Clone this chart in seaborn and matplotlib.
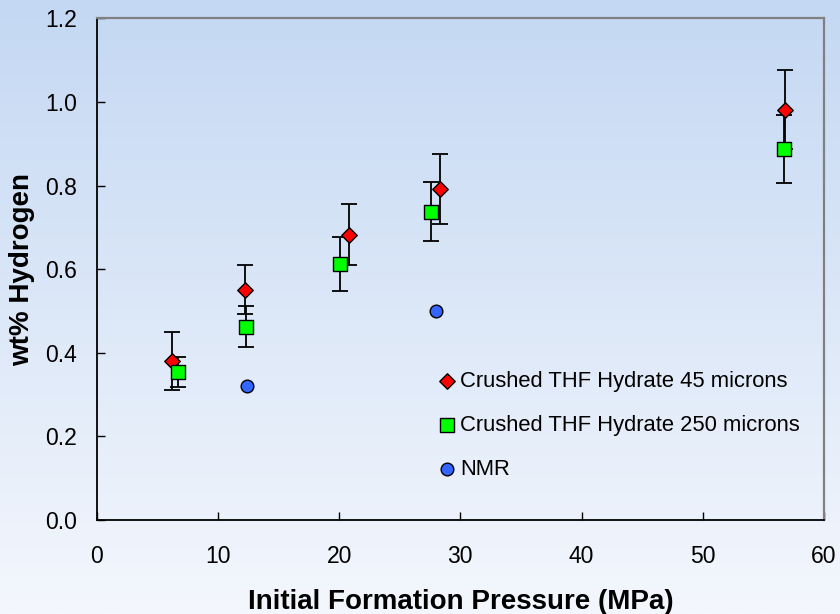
import numpy as np
import pandas as pd
import matplotlib
matplotlib.use("Agg")
import matplotlib.pyplot as plt
from matplotlib.colors import LinearSegmentedColormap
import seaborn as sns

# values
x45 = [6.2, 12.2, 20.8, 28.3, 56.8]
y45 = [0.380, 0.551, 0.683, 0.792, 0.982]
err45 = [0.070, 0.058, 0.073, 0.083, 0.094]

x250 = [6.7, 12.3, 20.1, 27.6, 56.7]
y250 = [0.354, 0.463, 0.612, 0.738, 0.888]
err250 = [0.035, 0.049, 0.064, 0.070, 0.082]

x_nmr = [12.4, 28.0]
y_nmr = [0.321, 0.500]

x_ticks = [0, 10, 20, 30, 40, 50, 60]
y_ticks = [0.0, 0.2, 0.4, 0.6, 0.8, 1.0, 1.2]

sns.set_theme(style="white")
plt.rcParams['font.family'] = ['Liberation Sans', 'DejaVu Sans']
plt.rcParams['text.color'] = 'black'
plt.rcParams['axes.labelcolor'] = 'black'

fig = plt.figure(figsize=(8.4, 6.14), dpi=100)

# gradient background over the whole figure
bg = fig.add_axes([0, 0, 1, 1], zorder=-10)
grad = np.linspace(0, 1, 256).reshape(-1, 1)
cmap = LinearSegmentedColormap.from_list("bg", ["#c4d8f3", "#f4f7fd"])
bg.imshow(grad, aspect="auto", cmap=cmap, extent=[0, 1, 0, 1])
bg.set_axis_off()

ax = fig.add_axes([0.115, 0.153, 0.866, 0.817])
ax.patch.set_alpha(0)

series = [
    ("Crushed THF Hydrate 45 microns", x45, y45, err45, "D", "#ff0000", 62),
    ("Crushed THF Hydrate 250 microns", x250, y250, err250, "s", "#00ff00", 92),
]
for label, xs, ys, es, mk, col, sz in series:
    ax.errorbar(xs, ys, yerr=es, fmt="none", ecolor="black", elinewidth=1.3,
                capsize=5.5, capthick=1.3, zorder=2)
    df = pd.DataFrame({"x": xs, "y": ys})
    sns.scatterplot(data=df, x="x", y="y", marker=mk, color=col, s=sz,
                    edgecolor="black", linewidth=1.0, ax=ax, label=label, zorder=3)

df_nmr = pd.DataFrame({"x": x_nmr, "y": y_nmr})
sns.scatterplot(data=df_nmr, x="x", y="y", marker="o", color="#3366ff", s=83,
                edgecolor="black", linewidth=1.0, ax=ax, label="NMR", zorder=3)

ax.set_xlim(0, 60)
ax.set_ylim(0, 1.2)
ax.set_xticks(x_ticks)
ax.set_yticks(y_ticks)
ax.set_yticklabels([f"{v:.1f}" for v in y_ticks])
ax.tick_params(axis="x", direction="in", length=5.5, width=1, pad=18,
               labelsize=16.5, colors="black", bottom=True, top=False)
ax.tick_params(axis="y", direction="in", length=5.5, width=1, pad=14,
               labelsize=16.5, colors="black", left=True, right=False)

for side in ["left", "bottom"]:
    ax.spines[side].set_color("black")
    ax.spines[side].set_linewidth(1.3)
for side in ["top", "right"]:
    ax.spines[side].set_color("#808080")
    ax.spines[side].set_linewidth(1.6)

ax.set_xlabel("Initial Formation Pressure (MPa)", fontsize=20, fontweight="bold",
              labelpad=15, color="black")
ax.set_ylabel("wt% Hydrogen", fontsize=20, fontweight="bold", labelpad=7, color="black")

ax.legend(loc="upper left", bbox_to_anchor=(0.47, 0.297), frameon=False,
          fontsize=15.8, handlelength=0.8, handletextpad=0.2, labelspacing=1.05,
          borderpad=0, borderaxespad=0)

fig.savefig("out.png", dpi=100)
